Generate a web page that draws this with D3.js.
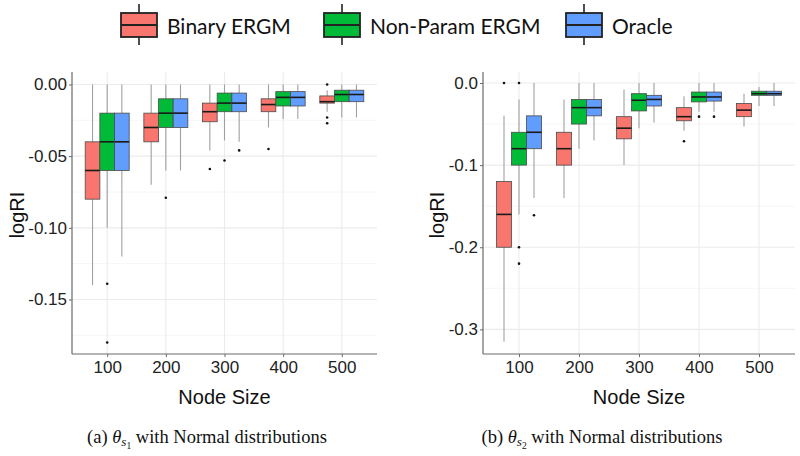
<!DOCTYPE html>
<html>
<head>
<meta charset="utf-8">
<script src="https://cdn.jsdelivr.net/npm/d3@7"></script>
<style>
  body { margin: 0; background: #fff; }
  svg { display: block; }
</style>
</head>
<body>
<svg id="chart" width="800" height="456"></svg>
<script>
// ---------------- DATA ----------------
const categories = ["100", "200", "300", "400", "500"];
const methods = ["Binary ERGM", "Non-Param ERGM", "Oracle"];
const colors = ["#F8766D", "#00BA38", "#619CFF"];

// Panel (a): theta_s1
const s1BinaryHi  = [0.000, 0.000, 0.000, 0.000, -0.004];
const s1BinaryQ3  = [-0.040, -0.020, -0.013, -0.010, -0.008];
const s1BinaryMed = [-0.060, -0.030, -0.019, -0.014, -0.012];
const s1BinaryQ1  = [-0.080, -0.040, -0.026, -0.019, -0.013];
const s1BinaryLo  = [-0.140, -0.070, -0.046, -0.030, -0.019];
const s1BinaryOut = [["300", -0.059], ["400", -0.045], ["500", 0.000], ["500", -0.023], ["500", -0.027]];

const s1NonParHi  = [0.000, 0.000, 0.000, 0.000, 0.000];
const s1NonParQ3  = [-0.020, -0.010, -0.006, -0.005, -0.004];
const s1NonParMed = [-0.040, -0.020, -0.013, -0.009, -0.007];
const s1NonParQ1  = [-0.060, -0.030, -0.019, -0.015, -0.012];
const s1NonParLo  = [-0.100, -0.060, -0.039, -0.024, -0.023];
const s1NonParOut = [["100", -0.139], ["100", -0.180], ["200", -0.079], ["300", -0.053]];

const s1OracleHi  = [0.000, 0.000, 0.000, 0.000, 0.000];
const s1OracleQ3  = [-0.020, -0.010, -0.006, -0.005, -0.004];
const s1OracleMed = [-0.040, -0.020, -0.013, -0.009, -0.007];
const s1OracleQ1  = [-0.060, -0.030, -0.019, -0.015, -0.012];
const s1OracleLo  = [-0.120, -0.060, -0.040, -0.024, -0.023];
const s1OracleOut = [["300", -0.046]];

const s1Ticks = [0, -0.05, -0.10, -0.15];
const s1Minor = [-0.025, -0.075, -0.125, -0.175];

// Panel (b): theta_s2
const s2BinaryHi  = [-0.040, -0.020, -0.008, -0.016, -0.013];
const s2BinaryQ3  = [-0.120, -0.060, -0.041, -0.030, -0.025];
const s2BinaryMed = [-0.160, -0.080, -0.055, -0.041, -0.033];
const s2BinaryQ1  = [-0.200, -0.100, -0.068, -0.046, -0.041];
const s2BinaryLo  = [-0.315, -0.140, -0.100, -0.058, -0.053];
const s2BinaryOut = [["100", 0.000], ["400", -0.071]];

const s2NonParHi  = [-0.020, 0.000, 0.000, 0.000, -0.005];
const s2NonParQ3  = [-0.060, -0.020, -0.013, -0.011, -0.010];
const s2NonParMed = [-0.080, -0.030, -0.021, -0.017, -0.013];
const s2NonParQ1  = [-0.100, -0.050, -0.034, -0.023, -0.015];
const s2NonParLo  = [-0.160, -0.080, -0.055, -0.035, -0.028];
const s2NonParOut = [["100", 0.000], ["100", -0.200], ["100", -0.220], ["400", -0.041]];

const s2OracleHi  = [0.000, 0.000, 0.000, 0.000, 0.000];
const s2OracleQ3  = [-0.040, -0.020, -0.015, -0.011, -0.010];
const s2OracleMed = [-0.060, -0.030, -0.020, -0.017, -0.013];
const s2OracleQ1  = [-0.080, -0.040, -0.028, -0.022, -0.015];
const s2OracleLo  = [-0.140, -0.070, -0.048, -0.035, -0.028];
const s2OracleOut = [["100", -0.161], ["400", -0.041]];

const s2Ticks = [0, -0.1, -0.2, -0.3];
const s2Minor = [-0.05, -0.15, -0.25];

const xTitle = "Node Size";
const yTitle = "logRI";

// ---------------- BUILD ----------------
function buildSeries(hi, q3, med, q1, lo, out) {
  return { stats: categories.map((c, i) => ({ cat: c, hi: hi[i], q3: q3[i], med: med[i], q1: q1[i], lo: lo[i] })), out: out };
}

const panels = [
  {
    left: 72, right: 377, top: 72, bottom: 354,
    yDomain: [-0.188, 0.0087],
    ticks: s1Ticks, minor: s1Minor, fmt: ".2f",
    series: [
      buildSeries(s1BinaryHi, s1BinaryQ3, s1BinaryMed, s1BinaryQ1, s1BinaryLo, s1BinaryOut),
      buildSeries(s1NonParHi, s1NonParQ3, s1NonParMed, s1NonParQ1, s1NonParLo, s1NonParOut),
      buildSeries(s1OracleHi, s1OracleQ3, s1OracleMed, s1OracleQ1, s1OracleLo, s1OracleOut)
    ],
    yTitleX: 17, capX: 207,
    caption: "a", sub: "1"
  },
  {
    left: 483, right: 795, top: 72, bottom: 354,
    yDomain: [-0.330, 0.0134],
    ticks: s2Ticks, minor: s2Minor, fmt: ".1f",
    series: [
      buildSeries(s2BinaryHi, s2BinaryQ3, s2BinaryMed, s2BinaryQ1, s2BinaryLo, s2BinaryOut),
      buildSeries(s2NonParHi, s2NonParQ3, s2NonParMed, s2NonParQ1, s2NonParLo, s2NonParOut),
      buildSeries(s2OracleHi, s2OracleQ3, s2OracleMed, s2OracleQ1, s2OracleLo, s2OracleOut)
    ],
    yTitleX: 437, capX: 602,
    caption: "b", sub: "2"
  }
];

const svg = d3.select("#chart");
const sans = "'Liberation Sans', Arial, sans-serif";

panels.forEach(p => {
  const g = svg.append("g");
  const x = d3.scalePoint().domain(categories).range([p.left, p.right]).padding(0.6);
  const y = d3.scaleLinear().domain(p.yDomain).range([p.bottom, p.top]);
  const step = x.step();
  const bw = step * 0.25;

  // grid
  const grid = g.append("g");
  grid.selectAll("line.minor").data(p.minor).join("line")
    .attr("x1", p.left).attr("x2", p.right)
    .attr("y1", d => y(d)).attr("y2", d => y(d))
    .attr("stroke", "#f4f4f4").attr("stroke-width", 0.8);
  grid.selectAll("line.major").data(p.ticks).join("line")
    .attr("x1", p.left).attr("x2", p.right)
    .attr("y1", d => y(d)).attr("y2", d => y(d))
    .attr("stroke", "#ebebeb").attr("stroke-width", 1.1);
  grid.selectAll("line.vert").data(categories).join("line")
    .attr("x1", d => x(d)).attr("x2", d => x(d))
    .attr("y1", p.top).attr("y2", p.bottom)
    .attr("stroke", "#ebebeb").attr("stroke-width", 1.1);

  // boxes
  p.series.forEach((s, si) => {
    const off = (si - 1) * bw;
    const sg = g.append("g");
    const cx = d => x(d.cat) + off;
    sg.selectAll("line.wu").data(s.stats).join("line")
      .attr("x1", cx).attr("x2", cx)
      .attr("y1", d => y(d.hi)).attr("y2", d => y(d.q3))
      .attr("stroke", "#a0a0a0").attr("stroke-width", 1.1);
    sg.selectAll("line.wl").data(s.stats).join("line")
      .attr("x1", cx).attr("x2", cx)
      .attr("y1", d => y(d.q1)).attr("y2", d => y(d.lo))
      .attr("stroke", "#a0a0a0").attr("stroke-width", 1.1);
    sg.selectAll("rect").data(s.stats).join("rect")
      .attr("x", d => cx(d) - bw / 2).attr("width", bw)
      .attr("y", d => y(d.q3)).attr("height", d => y(d.q1) - y(d.q3))
      .attr("fill", colors[si]).attr("stroke", "#4a4a4a").attr("stroke-width", 0.8);
    sg.selectAll("line.med").data(s.stats).join("line")
      .attr("x1", d => cx(d) - bw / 2).attr("x2", d => cx(d) + bw / 2)
      .attr("y1", d => y(d.med)).attr("y2", d => y(d.med))
      .attr("stroke", "#1a1a1a").attr("stroke-width", 1.6);
    sg.selectAll("circle").data(s.out).join("circle")
      .attr("cx", d => x(d[0]) + off).attr("cy", d => y(d[1]))
      .attr("r", 1.3).attr("fill", "#111");
  });

  // axes
  const f = d3.format(p.fmt);
  const yAxis = d3.axisLeft(y).tickValues(p.ticks).tickSize(3).tickSizeOuter(0).tickPadding(2)
    .tickFormat(d => f(d).replace("\u2212", "-"));
  const ya = g.append("g").attr("transform", `translate(${p.left},0)`).call(yAxis);
  ya.select(".domain").attr("d", `M0,${p.top}V${p.bottom}`);
  const xAxis = d3.axisBottom(x).tickSize(3).tickSizeOuter(0).tickPadding(4);
  const xa = g.append("g").attr("transform", `translate(0,${p.bottom})`).call(xAxis);
  xa.select(".domain").attr("d", `M${p.left},0H${p.right}`);
  [ya, xa].forEach(a => {
    a.select(".domain").attr("stroke", "#6a6a6a").attr("stroke-width", 1.2);
    a.selectAll(".tick line").attr("stroke", "#6a6a6a");
    a.selectAll("text").attr("font-family", sans).attr("font-size", 17).attr("fill", "#222");
  });

  // titles
  g.append("text")
    .attr("x", (p.left + p.right) / 2).attr("y", 404)
    .attr("text-anchor", "middle").attr("font-family", sans).attr("font-size", 20).attr("fill", "#111")
    .text(xTitle);
  g.append("text")
    .attr("transform", `translate(${p.yTitleX},${(p.top + p.bottom) / 2 + 2}) rotate(-90)`)
    .attr("text-anchor", "middle").attr("dominant-baseline", "central")
    .attr("font-family", sans).attr("font-size", 20).attr("fill", "#111")
    .text(yTitle);

  // caption
  const cap = g.append("text")
    .attr("x", p.capX).attr("y", 443)
    .attr("text-anchor", "middle")
    .attr("font-family", "'Liberation Serif', 'DejaVu Serif', serif").attr("font-size", 18.5).attr("fill", "#111");
  cap.append("tspan").text(`(${p.caption}) `);
  cap.append("tspan").attr("font-style", "italic").text("\u03B8");
  cap.append("tspan").attr("font-style", "italic").attr("font-size", 13).attr("dy", 3).text("s");
  cap.append("tspan").attr("font-size", 9.5).attr("dy", 2.5).text(p.sub);
  cap.append("tspan").attr("dy", -5.5).text(" with Normal distributions");
});

// legend
const legendKeys = [121, 324, 566];
const lg = svg.append("g");
methods.forEach((m, i) => {
  const kx = legendKeys[i];
  const k = lg.append("g");
  k.append("line").attr("x1", kx + 18).attr("x2", kx + 18).attr("y1", 4).attr("y2", 45)
    .attr("stroke", "#222").attr("stroke-width", 1.6);
  k.append("rect").attr("x", kx).attr("y", 13).attr("width", 36).attr("height", 24)
    .attr("fill", colors[i]).attr("stroke", "#222").attr("stroke-width", 1.8);
  k.append("line").attr("x1", kx).attr("x2", kx + 36).attr("y1", 25).attr("y2", 25)
    .attr("stroke", "#222").attr("stroke-width", 1.8);
  k.append("text").attr("x", kx + 46).attr("y", 25).attr("dominant-baseline", "central")
    .attr("font-family", "Lato, 'Open Sans', sans-serif").attr("font-size", 21).attr("fill", "#111")
    .text(m);
});
</script>
</body>
</html>
